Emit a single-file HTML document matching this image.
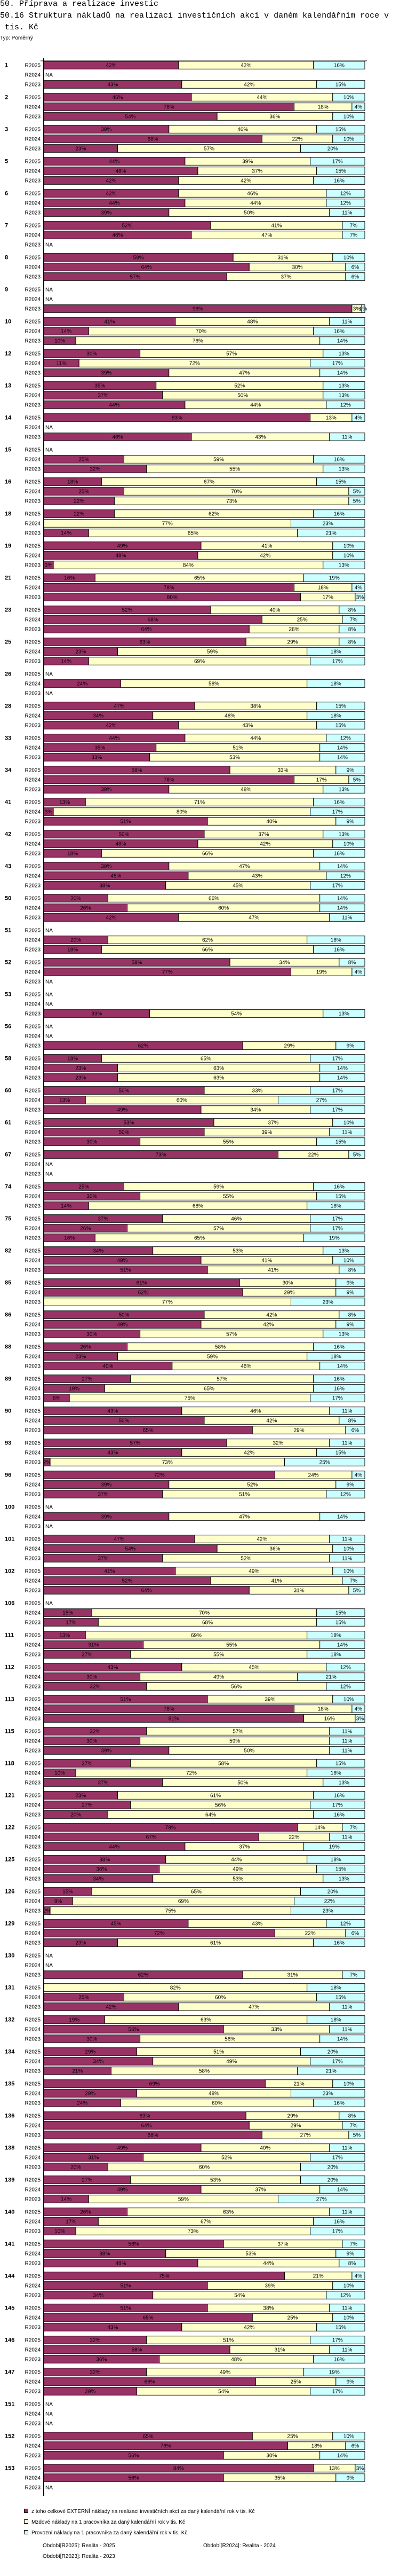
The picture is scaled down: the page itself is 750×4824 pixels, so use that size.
<!DOCTYPE html>
<html><head><meta charset="utf-8">
<style>
html,body{margin:0;padding:0;background:#fff;}
body{width:750px;height:4824px;position:relative;overflow:hidden;font-family:"Liberation Sans",sans-serif;}
.t{position:absolute;left:0;font-family:"Liberation Mono",monospace;font-size:15px;color:#000;white-space:pre;line-height:22px;}
#chart{position:absolute;left:0;top:0;}
</style></head>
<body>
<div class="t" style="top:-3px">50. Příprava a realizace investic</div>
<div class="t" style="top:19px">50.16 Struktura nákladů na realizaci investičních akcí v daném kalendářním roce v
 tis. Kč</div>
<div style="position:absolute;left:0;top:66px;font-size:10px;">Typ: Poměrný</div>
<svg id="chart" width="750" height="4824" xmlns="http://www.w3.org/2000/svg"></svg>
<script>
const groupLabels=["1","2","3","5","6","7","8","9","10","12","13","14","15","16","18","19","21","23","25","26","28","33","34","41","42","43","50","51","52","53","56","58","60","61","67","74","75","82","85","86","88","89","90","93","96","100","101","102","106","111","112","113","115","118","121","122","125","126","129","130","131","132","134","135","136","138","139","140","141","144","145","146","147","151","152","153"];
const periods=["R2025","R2024","R2023"];
const N=null;
const values=[
[[42,42,16],N,[43,42,15]],
[[46,44,10],[78,18,4],[54,36,10]],
[[39,46,15],[68,22,10],[23,57,20]],
[[44,39,17],[48,37,15],[42,42,16]],
[[42,46,12],[44,44,12],[39,50,11]],
[[52,41,7],[46,47,7],N],
[[59,31,10],[64,30,6],[57,37,6]],
[N,N,[96,3,1]],
[[41,48,11],[14,70,16],[10,76,14]],
[[30,57,13],[11,72,17],[39,47,14]],
[[35,52,13],[37,50,13],[44,44,12]],
[[83,13,4],N,[46,43,11]],
[N,[25,59,16],[32,55,13]],
[[18,67,15],[25,70,5],[22,73,5]],
[[22,62,16],[0,77,23],[14,65,21]],
[[49,41,10],[48,42,10],[3,84,13]],
[[16,65,19],[78,18,4],[80,17,3]],
[[52,40,8],[68,25,7],[64,28,8]],
[[63,29,8],[23,59,18],[14,69,17]],
[N,[24,58,18],N],
[[47,38,15],[34,48,18],[42,43,15]],
[[44,44,12],[35,51,14],[33,53,14]],
[[58,33,9],[78,17,5],[39,48,13]],
[[13,71,16],[3,80,17],[51,40,9]],
[[50,37,13],[48,42,10],[18,66,16]],
[[39,47,14],[45,43,12],[38,45,17]],
[[20,66,14],[26,60,14],[42,47,11]],
[N,[20,62,18],[18,66,16]],
[[58,34,8],[77,19,4],N],
[N,N,[33,54,13]],
[N,N,[62,29,9]],
[[18,65,17],[23,63,14],[23,63,14]],
[[50,33,17],[13,60,27],[49,34,17]],
[[53,37,10],[50,39,11],[30,55,15]],
[[73,22,5],N,N],
[[25,59,16],[30,55,15],[14,68,18]],
[[37,46,17],[26,57,17],[16,65,19]],
[[34,53,13],[49,41,10],[51,41,8]],
[[61,30,9],[62,29,9],[0,77,23]],
[[50,42,8],[49,42,9],[30,57,13]],
[[26,58,16],[23,59,18],[40,46,14]],
[[27,57,16],[19,65,16],[8,75,17]],
[[43,46,11],[50,42,8],[65,29,6]],
[[57,32,11],[43,42,15],[2,73,25]],
[[72,24,4],[39,52,9],[37,51,12]],
[N,[39,47,14],N],
[[47,42,11],[54,36,10],[37,52,11]],
[[41,49,10],[52,41,7],[64,31,5]],
[N,[15,70,15],[17,68,15]],
[[13,69,18],[31,55,14],[27,55,18]],
[[43,45,12],[30,49,21],[32,56,12]],
[[51,39,10],[78,18,4],[81,16,3]],
[[32,57,11],[30,59,11],[39,50,11]],
[[27,58,15],[10,72,18],[37,50,13]],
[[23,61,16],[27,56,17],[20,64,16]],
[[79,14,7],[67,22,11],[44,37,19]],
[[38,44,18],[36,49,15],[34,53,13]],
[[15,65,20],[9,69,22],[2,75,23]],
[[45,43,12],[72,22,6],[23,61,16]],
[N,N,[62,31,7]],
[[0,82,18],[25,60,15],[42,47,11]],
[[19,63,18],[56,33,11],[30,56,14]],
[[29,51,20],[34,49,17],[21,58,21]],
[[69,21,10],[29,48,23],[24,60,16]],
[[63,29,8],[64,29,7],[68,27,5]],
[[49,40,11],[31,52,17],[20,60,20]],
[[27,53,20],[49,37,14],[14,59,27]],
[[26,63,11],[17,67,16],[10,73,17]],
[[56,37,7],[38,53,9],[48,44,8]],
[[75,21,4],[51,39,10],[34,54,12]],
[[51,38,11],[65,25,10],[43,42,15]],
[[32,51,17],[58,31,11],[36,48,16]],
[[32,49,19],[66,25,9],[29,54,17]],
[N,N,N],
[[65,25,10],[76,18,6],[56,30,14]],
[[84,13,3],[56,35,9],N]
];
const seriesNames=["z toho celkové EXTERNÍ náklady na realizaci investičních akcí za daný kalendářní rok v tis. Kč","Mzdové náklady na 1 pracovníka za daný kalendářní rok v tis. Kč","Provozní náklady na 1 pracovníka za daný kalendářní rok v tis. Kč"];
const periodNotes=["Období[R2025]: Realita - 2025","Období[R2024]: Realita - 2024","Období[R2023]: Realita - 2023"];

const colors=["#993366","#FFFFCC","#CCFFFF"];
const svg=document.getElementById('chart');
const NS="http://www.w3.org/2000/svg";
const X0=82,X1=684,TOP=114.7,GP=60,RP=18,BH=14.6;
function xs(p){return X0+(X1-X0)*p;}
function yRow(g,r){return TOP+g*GP+r*RP;}
function mk(tag,attrs,txt){const e=document.createElementNS(NS,tag);for(const k in attrs)e.setAttribute(k,attrs[k]);if(txt!=null)e.textContent=txt;svg.appendChild(e);return e;}

groupLabels.forEach((gl,g)=>{
  const t=mk('text',{x:9,y:yRow(g,0)+11,'font-size':11,'font-weight':'bold','font-family':'Liberation Sans, sans-serif'},gl);
  
  
  periods.forEach((p,r)=>{
    const y=yRow(g,r);
    const pl=mk('text',{x:76,y:y+11,'font-size':10,'text-anchor':'end','font-family':'Liberation Sans, sans-serif'},p);
    
    
    const v=values[g][r];
    if(!v){
      const na=mk('text',{x:85,y:y+11,'font-size':10,'font-family':'Liberation Sans, sans-serif'},'NA');
      
      
      return;
    }
    const tot=v[0]+v[1]+v[2];let acc=0;
    v.forEach((val,s)=>{
      if(val<=0)return;
      const a=xs(acc/tot),b=xs((acc+val)/tot);acc+=val;
      const rc=mk('rect',{x:a,y:y,width:b-a,height:BH,fill:colors[s],stroke:'#000','stroke-width':1});
      
      
      const tx=mk('text',{x:(a+b)/2,y:y+11,'font-size':10,'text-anchor':'middle','font-family':'Liberation Sans, sans-serif'},val+'%');
      
      
    });
  });
});
const ax=mk('line',{x1:82,y1:109,x2:82,y2:4674,stroke:'#000','stroke-width':2});


const tl=mk('line',{x1:76,y1:114,x2:688,y2:114,stroke:'#000','stroke-width':1});



seriesNames.forEach((n,i)=>{
  const y=4698+i*20;
  const sq=mk('rect',{x:45.5,y:y+0.5,width:7,height:7,fill:colors[i],stroke:'#000','stroke-width':1});
  
  
  const lt=mk('text',{x:59,y:y+8,'font-size':10,'font-family':'Liberation Sans, sans-serif'},n);
  
  
});
periodNotes.forEach((n,i)=>{
  const x=i===1?381:80;const y=i===2?4790:4770;
  const pt=mk('text',{x:x,y:y,'font-size':10,'font-family':'Liberation Sans, sans-serif'},n);
  
  
});
</script>
</body></html>
